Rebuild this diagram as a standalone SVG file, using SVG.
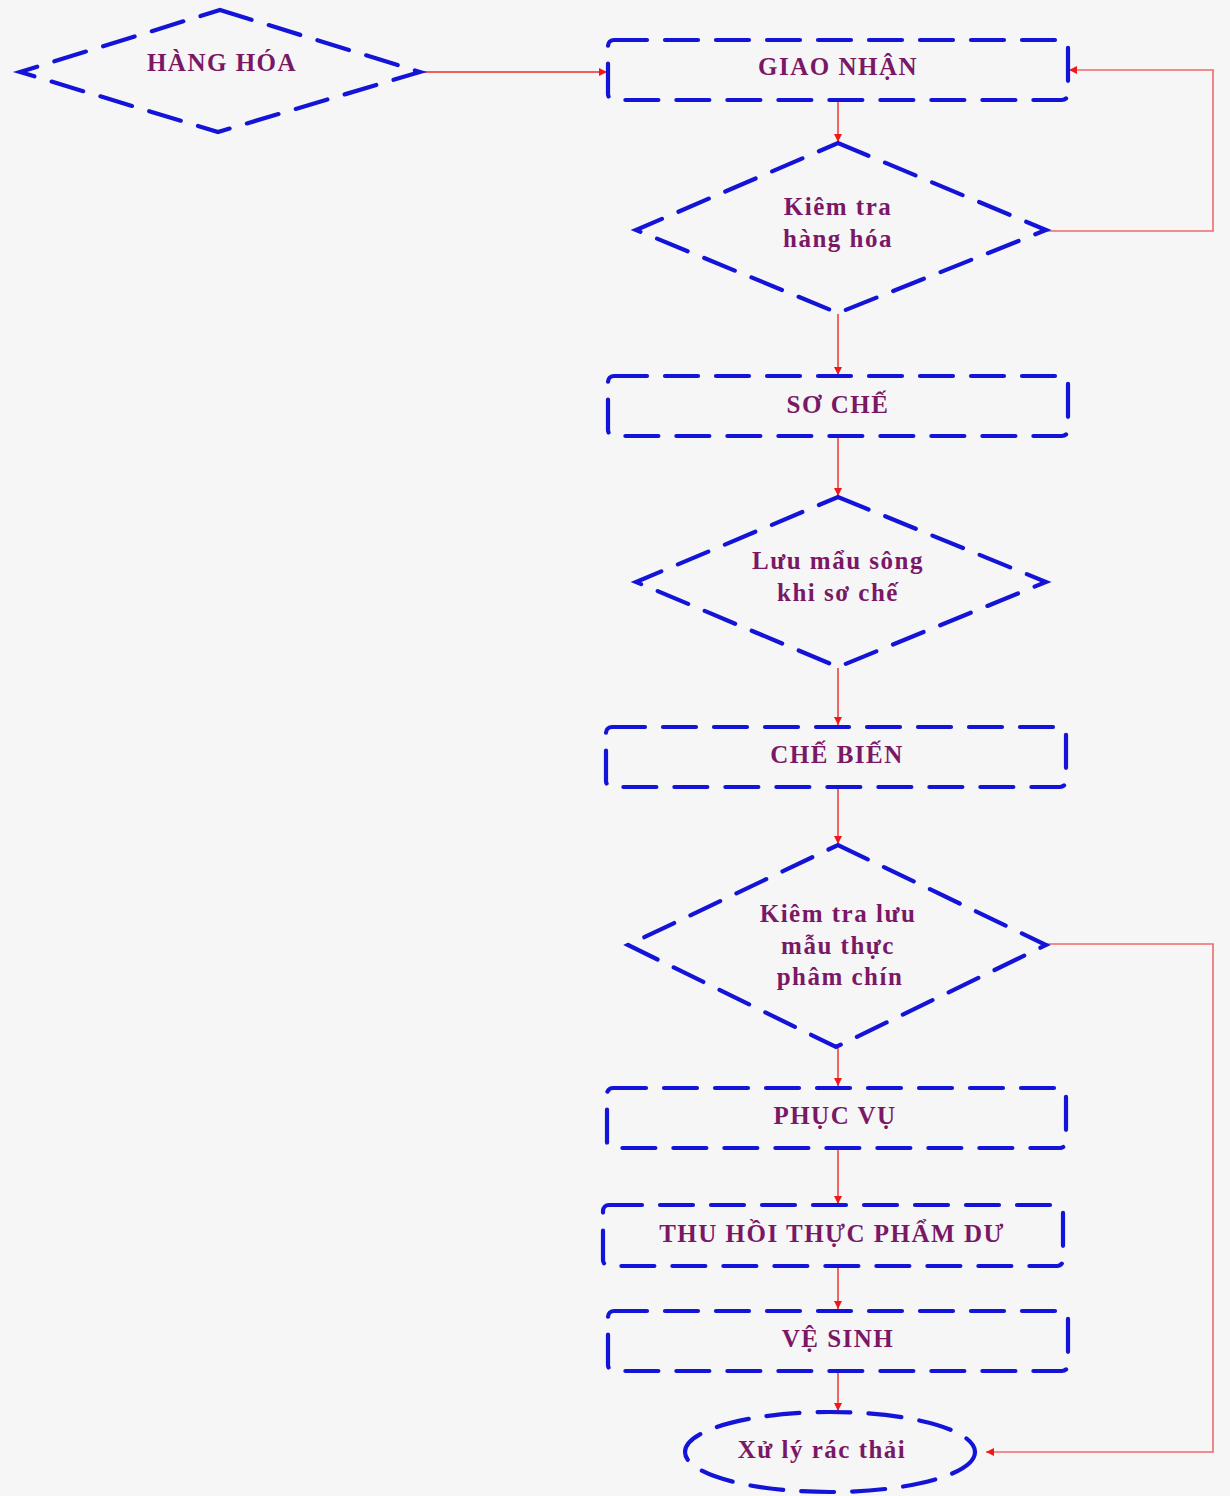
<svg xmlns="http://www.w3.org/2000/svg" width="1230" height="1496" viewBox="0 0 1230 1496">
<defs>
<style>
.shape{fill:none;stroke:#1414d8;stroke-width:4.2;stroke-dasharray:33 18;stroke-linecap:round}
.lbl{font-family:"Liberation Serif","Times New Roman",serif;font-weight:bold;font-size:25px;letter-spacing:1.5px;fill:#7a1866;text-anchor:middle;dominant-baseline:middle}
.conn{fill:none;stroke:#f02828;stroke-width:1.4}
.loop{fill:none;stroke:#ee6a6a;stroke-width:1.6}
</style>
<marker id="ah" viewBox="0 0 10 10" refX="10" refY="5" markerWidth="8" markerHeight="8" markerUnits="userSpaceOnUse" orient="auto">
<path d="M0,0 L10,5 L0,10 z" fill="#f01818"/>
</marker>
</defs>
<rect x="0" y="0" width="1230" height="1496" fill="#f6f6f7"/>

<g id="connectors">
<line class="conn" x1="420" y1="72" x2="607" y2="72" marker-end="url(#ah)"/>
<line class="conn" x1="838" y1="101" x2="838" y2="142" marker-end="url(#ah)"/>
<polyline class="loop" points="1046,231 1213,231 1213,70 1069,70" marker-end="url(#ah)"/>
<line class="conn" x1="838" y1="314" x2="838" y2="375" marker-end="url(#ah)"/>
<line class="conn" x1="838" y1="437" x2="838" y2="496" marker-end="url(#ah)"/>
<line class="conn" x1="838" y1="668" x2="838" y2="725" marker-end="url(#ah)"/>
<line class="conn" x1="838" y1="788" x2="838" y2="844" marker-end="url(#ah)"/>
<polyline class="loop" points="1046,944 1213,944 1213,1452 986,1452" marker-end="url(#ah)"/>
<line class="conn" x1="838" y1="1048" x2="838" y2="1086" marker-end="url(#ah)"/>
<line class="conn" x1="838" y1="1149" x2="838" y2="1204" marker-end="url(#ah)"/>
<line class="conn" x1="838" y1="1267" x2="838" y2="1309" marker-end="url(#ah)"/>
<line class="conn" x1="838" y1="1372" x2="838" y2="1411" marker-end="url(#ah)"/>
</g>

<g id="hang-hoa">
<polygon class="shape" points="220,10 420,72 218,132 20,72"/>
<text class="lbl" x="222" y="65">HÀNG HÓA</text>
</g>

<g id="giao-nhan">
<rect class="shape" x="608" y="40" width="460" height="60" rx="6"/>
<text class="lbl" x="838" y="69">GIAO NHẬN</text>
</g>

<g id="kiem-tra-hang-hoa">
<polygon class="shape" points="838,143 1046,230 838,313 636,230"/>
<text class="lbl" x="838" y="209">Kiêm tra</text>
<text class="lbl" x="838" y="241">hàng hóa</text>
</g>

<g id="so-che">
<rect class="shape" x="608" y="376" width="460" height="60" rx="6"/>
<text class="lbl" x="838" y="407">SƠ CHẾ</text>
</g>

<g id="luu-mau-song">
<polygon class="shape" points="838,497 1046,582 838,667 636,582"/>
<text class="lbl" x="838" y="563">Lưu mẩu sông</text>
<text class="lbl" x="838" y="595">khi sơ chế</text>
</g>

<g id="che-bien">
<rect class="shape" x="606" y="727" width="460" height="60" rx="6"/>
<text class="lbl" x="837" y="757">CHẾ BIẾN</text>
</g>

<g id="kiem-tra-luu-mau">
<polygon class="shape" points="838,845 1046,945 836,1047 628,945"/>
<text class="lbl" x="838" y="916">Kiêm tra lưu</text>
<text class="lbl" x="838" y="948">mẫu thực</text>
<text class="lbl" x="840" y="979">phâm chín</text>
</g>

<g id="phuc-vu">
<rect class="shape" x="607" y="1088" width="459" height="60" rx="6"/>
<text class="lbl" x="835" y="1118">PHỤC VỤ</text>
</g>

<g id="thu-hoi">
<rect class="shape" x="603" y="1205" width="460" height="61" rx="6"/>
<text class="lbl" x="832" y="1236">THU HỒI THỰC PHẨM DƯ</text>
</g>

<g id="ve-sinh">
<rect class="shape" x="608" y="1311" width="460" height="60" rx="6"/>
<text class="lbl" x="838" y="1341">VỆ SINH</text>
</g>

<g id="xu-ly-rac-thai">
<ellipse class="shape" cx="830" cy="1452" rx="145" ry="40"/>
<text class="lbl" x="822" y="1452">Xử lý rác thải</text>
</g>
</svg>
